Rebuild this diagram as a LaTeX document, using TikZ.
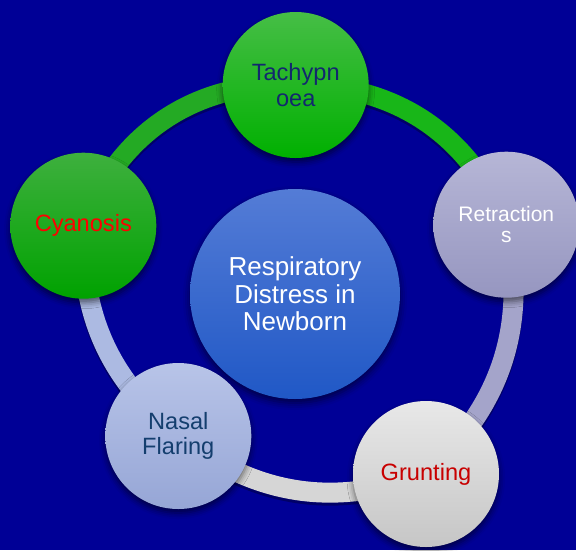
\documentclass[tikz,border=0pt]{standalone}
\usepackage{fontspec}
\setmainfont{Liberation Sans}
\usetikzlibrary{shadows.blur,backgrounds}

\definecolor{pagebg}{RGB}{0,0,150}
\definecolor{greenTop}{RGB}{70,190,70}
\definecolor{greenBot}{RGB}{0,176,0}
\definecolor{cyanTop}{RGB}{62,176,62}
\definecolor{cyanBot}{RGB}{0,162,0}
\definecolor{lavTop}{RGB}{182,182,214}
\definecolor{lavBot}{RGB}{150,150,192}
\definecolor{greyTop}{RGB}{232,232,232}
\definecolor{greyBot}{RGB}{198,198,198}
\definecolor{periTop}{RGB}{184,196,232}
\definecolor{periBot}{RGB}{150,166,214}
\definecolor{hubTop}{RGB}{84,124,214}
\definecolor{hubBot}{RGB}{32,88,198}
\definecolor{navyText}{RGB}{18,40,110}
\definecolor{tealText}{RGB}{20,62,110}
\definecolor{darkRed}{RGB}{200,0,0}
\definecolor{ringGreenA}{RGB}{36,170,36}
\definecolor{ringGreenB}{RGB}{24,182,24}
\definecolor{ringLav}{RGB}{164,164,202}
\definecolor{ringGrey}{RGB}{214,214,214}
\definecolor{ringPeri}{RGB}{172,186,226}

\tikzset{
  bubble/.style={circle, minimum size=146pt, inner sep=0pt, align=center,
    blur shadow={shadow xshift=0pt, shadow yshift=-4pt, shadow blur radius=6pt, shadow opacity=55}},
  hub/.style={circle, minimum size=210pt, inner sep=0pt, align=center,
    top color=hubTop, bottom color=hubBot, text=white,
    blur shadow={shadow xshift=0pt, shadow yshift=-4pt, shadow blur radius=7pt, shadow opacity=55}},
  ringseg/.style={line width=20pt, line cap=butt,
    preaction={draw=black, draw opacity=0.3, line width=20pt, transform canvas={yshift=-3pt}}},
  bigtext/.style={font=\fontsize{23.6}{25.3}\selectfont},
}

\begin{document}
\begin{tikzpicture}[x=1pt, y=-1pt]
  \useasboundingbox (0,0) rectangle (576,550);

  % central topic
  \node[hub, font=\fontsize{26}{27.5}\selectfont] (hubnode) at (295,294)
    {Respiratory\\Distress in\\Newborn};

  % surrounding signs
  \node[bubble, top color=greenTop, bottom color=greenBot, text=navyText, bigtext]
    (tach) at (295.7,85) {Tachypn\\oea};
  \node[bubble, top color=lavTop, bottom color=lavBot, text=white,
        font=\fontsize{21}{21}\selectfont]
    (retr) at (506.3,224.7) {Retraction\\s};
  \node[bubble, top color=greyTop, bottom color=greyBot, text=darkRed, bigtext]
    (grunt) at (426,474) {Grunting};
  \node[bubble, top color=periTop, bottom color=periBot, text=tealText, bigtext]
    (nasal) at (178.3,436) {Nasal\\Flaring};
  \node[bubble, top color=cyanTop, bottom color=cyanBot, text=red, bigtext]
    (cyan) at (83.3,225.7) {Cyanosis};

  % page colour and the cycle ring joining the signs, behind everything
  \begin{scope}[on background layer]
    \fill[pagebg] (0,0) rectangle (576,550);
    \draw[ringseg, draw=ringGreenA] (cyan.center)  to[bend left=36] (tach.center);
    \draw[ringseg, draw=ringGreenB] (tach.center)  to[bend left=34] (retr.center);
    \draw[ringseg, draw=ringLav]    (retr.center)  to[bend left=30] (grunt.center);
    \draw[ringseg, draw=ringGrey]   (grunt.center) to[bend left=29] (nasal.center);
    \draw[ringseg, draw=ringPeri]   (nasal.center) to[bend left=26] (cyan.center);
  \end{scope}
\end{tikzpicture}
\end{document}
